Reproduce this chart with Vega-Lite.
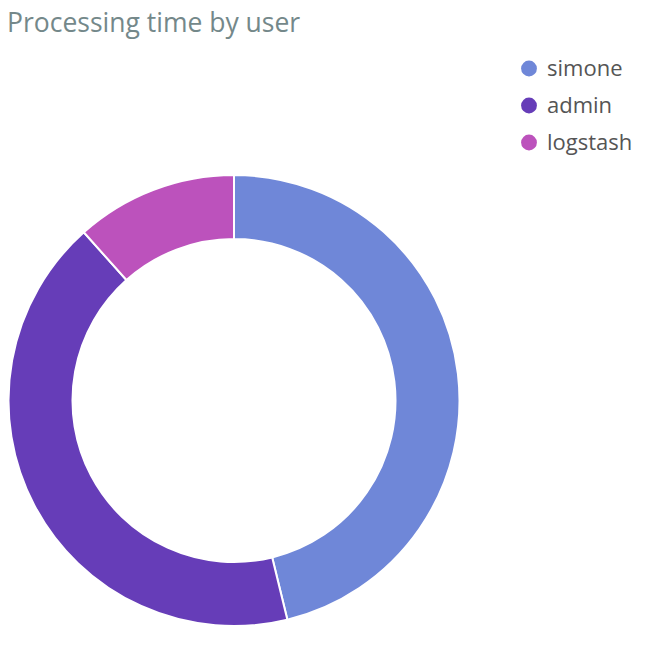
{
  "$schema": "https://vega.github.io/schema/vega-lite/v6.json",
  "width": 468,
  "height": 452,
  "autosize": {"type": "none"},
  "padding": {"left": 0, "top": 174.5, "right": 182, "bottom": 39.5},
  "background": "white",
  "config": {"view": {"stroke": null}, "font": "Open Sans"},
  "title": {
    "text": "Processing time by user",
    "anchor": "start",
    "frame": "group",
    "orient": "top",
    "offset": 20,
    "dx": 7,
    "font": "Open Sans",
    "fontSize": 26.5,
    "fontWeight": "normal",
    "color": "#74888a"
  },
  "data": {
    "values": [
      {"user": "simone", "time": 46.2},
      {"user": "admin", "time": 42.2},
      {"user": "logstash", "time": 11.6}
    ]
  },
  "mark": {"type": "arc", "innerRadius": 161.5, "outerRadius": 225.5, "stroke": "white", "strokeWidth": 2},
  "encoding": {
    "theta": {"field": "time", "type": "quantitative", "stack": true},
    "color": {
      "field": "user",
      "type": "nominal",
      "sort": ["simone", "admin", "logstash"],
      "scale": {"domain": ["simone", "admin", "logstash"], "range": ["#6f87d8", "#663db8", "#bc52bc"]},
      "legend": {
        "orient": "none",
        "legendX": 518,
        "legendY": -117,
        "title": null,
        "symbolType": "circle",
        "symbolSize": 250,
        "symbolStrokeWidth": 0,
        "labelFont": "Open Sans",
        "labelFontSize": 22,
        "labelColor": "#555555",
        "labelOffset": 7,
        "rowPadding": 15
      }
    },
    "order": {"field": "time", "sort": "descending"}
  }
}
